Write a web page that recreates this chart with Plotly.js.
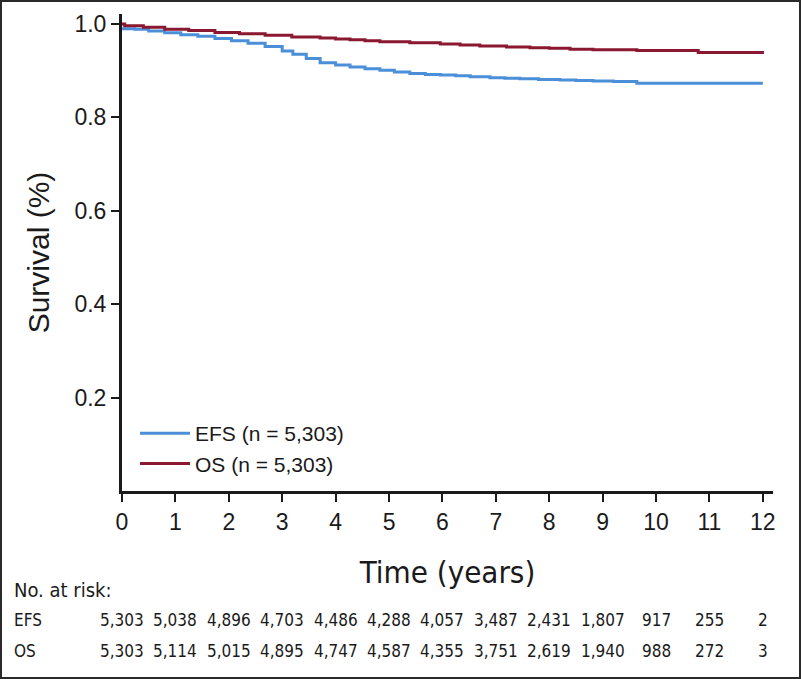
<!DOCTYPE html>
<html lang="en">
<head>
    <meta charset="UTF-8">
    <title>EFS and OS survival</title>
    <script src="https://cdn.plot.ly/plotly-3.0.1.min.js"></script>
    <style>
        body { margin: 0; padding: 0; background: #fff; }
        #plot { width: 801px; height: 679px; }
    </style>
</head>
<body>
    <div id="plot"></div>
    <script>
        // Kaplan-Meier curves (years, survival proportion)
        const efsTime = [0, 0.24, 0.5, 0.8, 1.1, 1.42, 1.74, 2.05, 2.36, 2.68, 3.0, 3.2, 3.45, 3.71, 4.0, 4.27, 4.55, 4.83, 5.1, 5.39, 5.68, 5.96, 6.25, 6.52, 6.89, 7.17, 7.45, 7.8, 8.2, 8.5, 8.82, 9.2, 9.64, 12.0];
        const efsSurv = [0.990, 0.989, 0.985, 0.981, 0.977, 0.974, 0.969, 0.964, 0.959, 0.952, 0.942, 0.935, 0.926, 0.917, 0.912, 0.908, 0.904, 0.901, 0.897, 0.894, 0.892, 0.891, 0.889, 0.887, 0.885, 0.884, 0.883, 0.881, 0.880, 0.879, 0.878, 0.877, 0.873, 0.873];

        const osTime = [0, 0.05, 0.4, 0.8, 1.25, 1.74, 2.2, 2.68, 3.18, 3.71, 4.0, 4.27, 4.55, 4.83, 5.39, 5.96, 6.33, 6.7, 7.2, 7.64, 8.0, 8.39, 8.82, 9.64, 10.79, 12.02];
        const osSurv = [1.0, 0.996, 0.993, 0.989, 0.986, 0.982, 0.979, 0.976, 0.972, 0.970, 0.968, 0.966, 0.964, 0.962, 0.960, 0.957, 0.955, 0.953, 0.951, 0.949, 0.948, 0.946, 0.945, 0.943, 0.939, 0.939];

        // Number at risk table
        const riskYears = [0, 1, 2, 3, 4, 5, 6, 7, 8, 9, 10, 11, 12];
        const efsAtRisk = ['5,303', '5,038', '4,896', '4,703', '4,486', '4,288', '4,057', '3,487', '2,431', '1,807', '917', '255', '2'];
        const osAtRisk = ['5,303', '5,114', '5,015', '4,895', '4,747', '4,587', '4,355', '3,751', '2,619', '1,940', '988', '272', '3'];

        const yTicks = [0.2, 0.4, 0.6, 0.8, 1.0];
        const yTickText = ['0.2', '0.4', '0.6', '0.8', '1.0'];

        const blue = '#4a8fd8';
        const red = '#8a1830';
        const sans = 'Liberation Sans, Arial, sans-serif';
        const narrow = 'DejaVu Sans Condensed, Roboto, sans-serif';

        const traces = [
            {
                x: efsTime, y: efsSurv, type: 'scatter', mode: 'lines',
                line: { color: blue, width: 3, shape: 'hv' },
                name: 'EFS (n = 5,303)'
            },
            {
                x: osTime, y: osSurv, type: 'scatter', mode: 'lines',
                line: { color: red, width: 3, shape: 'hv' },
                name: 'OS (n = 5,303)'
            }
        ];

        // plot area in pixels: left 122, right 773, top 14, bottom 491
        const pw = 651, ph = 477;
        const rowY = px => (491 - px) / ph;

        const annotations = [];
        annotations.push({
            xref: 'paper', yref: 'paper', x: (12 - 122) / pw, y: rowY(590),
            xanchor: 'left', yanchor: 'middle', showarrow: false,
            text: 'No. at risk:', font: { family: narrow, size: 20, color: '#1a1a1a' }
        });
        [['EFS', efsAtRisk, 620], ['OS', osAtRisk, 651]].forEach(([label, vals, py]) => {
            annotations.push({
                xref: 'paper', yref: 'paper', x: (12 - 122) / pw, y: rowY(py),
                xanchor: 'left', yanchor: 'middle', showarrow: false,
                text: label, font: { family: narrow, size: 17, color: '#1a1a1a' }
            });
            vals.forEach((v, i) => {
                annotations.push({
                    xref: 'x', yref: 'paper', x: riskYears[i], y: rowY(py),
                    xanchor: 'center', yanchor: 'middle', showarrow: false,
                    text: v, font: { family: narrow, size: 17, color: '#1a1a1a' }
                });
            });
        });

        const layout = {
            width: 801,
            height: 679,
            margin: { l: 122, r: 28, t: 14, b: 188 },
            paper_bgcolor: '#fff',
            plot_bgcolor: '#fff',
            showlegend: true,
            legend: {
                x: 0.02, y: rowY(413), xanchor: 'left', yanchor: 'top',
                bgcolor: 'rgba(0,0,0,0)',
                font: { family: sans, size: 21, color: '#1a1a1a' },
                itemwidth: 50, tracegroupgap: 0
            },
            xaxis: {
                range: [0, 12.19],
                tickvals: riskYears,
                ticks: 'outside', ticklen: 8, tickwidth: 2, tickcolor: '#1a1a1a',
                showline: true, linecolor: '#1a1a1a', linewidth: 3,
                showgrid: false, zeroline: false,
                tickfont: { family: sans, size: 23, color: '#1a1a1a' },
                title: { text: 'Time (years)', font: { family: narrow, size: 31, color: '#1a1a1a' }, standoff: 28 }
            },
            yaxis: {
                range: [0, 1.0214],
                tickvals: yTicks, ticktext: yTickText,
                ticks: 'outside', ticklen: 8, tickwidth: 2, tickcolor: '#1a1a1a',
                showline: true, linecolor: '#1a1a1a', linewidth: 3,
                showgrid: false, zeroline: false,
                tickfont: { family: sans, size: 23, color: '#1a1a1a' },
                title: { text: 'Survival (%)', font: { family: sans, size: 30, color: '#1a1a1a' }, standoff: 16 }
            },
            annotations: annotations,
            shapes: [{
                type: 'rect', xref: 'paper', yref: 'paper',
                x0: -121 / pw, x1: 678 / pw, y0: -187 / ph, y1: (491 - 1) / ph,
                line: { color: '#2a2a2a', width: 2 }
            }]
        };

        Plotly.newPlot('plot', traces, layout, { displayModeBar: false, staticPlot: true });
    </script>
</body>
</html>
